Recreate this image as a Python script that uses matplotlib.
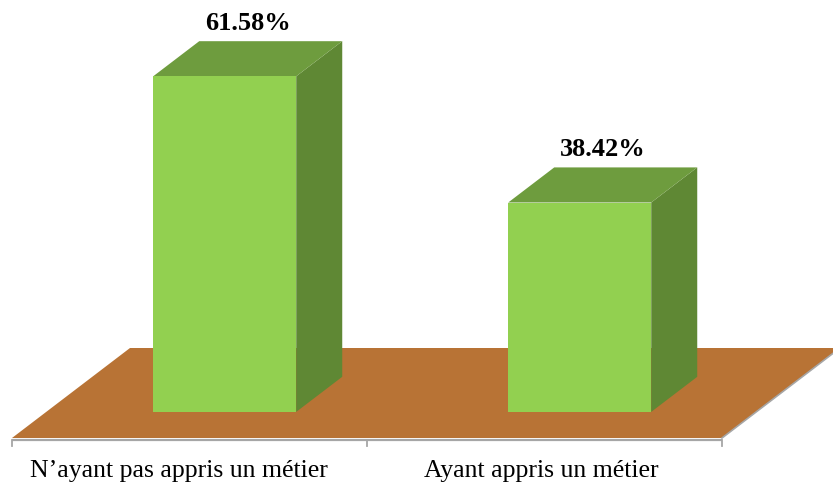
import matplotlib
matplotlib.use("Agg")
import matplotlib.pyplot as plt
from matplotlib.patches import Polygon

categories = ["N\u2019ayant pas appris un métier", "Ayant appris un métier"]
values = [61.58, 38.42]
value_labels = ["61.58%", "38.42%"]

# colours
front_c = "#92D050"
side_c = "#5F8834"
top_c = "#6E9C3E"
floor_c = "#B87335"
edge_c = "#A6A6A6"

W, H = 833, 484
fig = plt.figure(figsize=(W / 100, H / 100), dpi=100)
ax = fig.add_axes([0, 0, 1, 1])

# data scale: x in category units, y in percent units
px_per_cat = 355.0
px_per_pct = 5.45
x0_px = 12.0
floor_px = 438.0
ax.set_xlim(-x0_px / px_per_cat, (W - x0_px) / px_per_cat)
ax.set_ylim(-(H - floor_px) / px_per_pct, floor_px / px_per_pct)
ax.axis("off")

# depth vector (oblique projection) for unit depth
DX = 118.0 / px_per_cat
DY = 90.0 / px_per_pct

def P(x, y, z):
    return (x + z * DX, y + z * DY)

n = len(categories)
# floor
floor = Polygon([P(0, 0, 0), P(n, 0, 0), P(n, 0, 1), P(0, 0, 1)],
                closed=True, facecolor=floor_c, edgecolor="none", zorder=1)
ax.add_patch(floor)
# floor right edge line
ax.plot(*zip(P(n, 0, 0), P(n, 0, 1)), color=edge_c, lw=1.2, zorder=2)
# front axis line and ticks
ax.plot([0, n], [-0.35, -0.35], color=edge_c, lw=1.6, zorder=2, solid_capstyle="butt")
for i in range(n + 1):
    ax.plot([i, i], [-0.35, -1.4], color=edge_c, lw=1.3, zorder=2)

bar_w = 143.0 / px_per_cat
bar_off = (153.0 - 12.0 - 34.0) / px_per_cat  # offset of bar in slot at front depth
z0, z1 = 0.29, 0.68

for i, (v, lab) in enumerate(zip(values, value_labels)):
    xl = i + bar_off
    xr = xl + bar_w
    # side face
    side = Polygon([P(xr, 0, z0), P(xr, 0, z1), P(xr, v, z1), P(xr, v, z0)],
                   closed=True, facecolor=side_c, edgecolor="none", zorder=3)
    ax.add_patch(side)
    # top face
    top = Polygon([P(xl, v, z0), P(xr, v, z0), P(xr, v, z1), P(xl, v, z1)],
                  closed=True, facecolor=top_c, edgecolor="none", zorder=3)
    ax.add_patch(top)
    # front face
    front = Polygon([P(xl, 0, z0), P(xr, 0, z0), P(xr, v, z0), P(xl, v, z0)],
                    closed=True, facecolor=front_c, edgecolor="none", zorder=4)
    ax.add_patch(front)
    cx, cy = P((xl + xr) / 2, v, (z0 + z1) / 2)
    tx, ty = P((xl + xr) / 2, v, z1)
    ax.text(cx, ty + 1.2, lab, ha="center", va="bottom", fontsize=19,
            fontweight="bold", family="Liberation Serif", color="black", zorder=5)

label_pos = [0.47, 1.49]
for xp, c in zip(label_pos, categories):
    ax.text(xp, -(471 - floor_px) / px_per_pct, c, ha="center", va="center",
            fontsize=18.5, family="Liberation Serif", color="black")

fig.savefig("out.png", dpi=100, facecolor="white")
